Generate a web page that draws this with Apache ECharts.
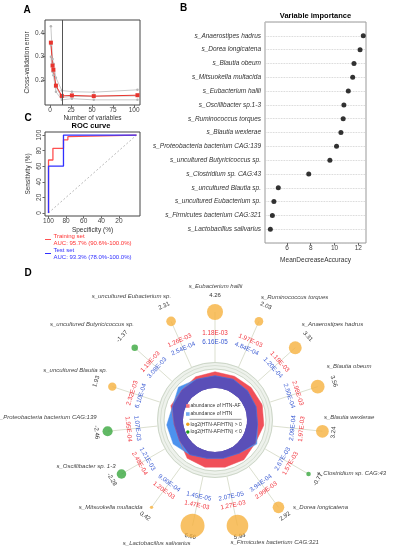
<!DOCTYPE html>
<html><head><meta charset="utf-8">
<script src="https://cdn.jsdelivr.net/npm/echarts@6/dist/echarts.min.js"></script>
<style>html,body{margin:0;padding:0;background:#fff}#c{width:395px;height:550px}</style>
</head><body><div id="c"></div>
<script>
// ---------- Panel A: cross-validation ----------
const cvNumVars = [1, 3, 4, 7, 14, 26, 52, 104];
const cvErrMean = [0.36, 0.262, 0.244, 0.176, 0.132, 0.134, 0.131, 0.135];
const cvErrRep1 = [0.43, 0.29, 0.27, 0.21, 0.155, 0.15, 0.148, 0.158];
const cvErrRep2 = [0.35, 0.26, 0.24, 0.17, 0.125, 0.13, 0.13, 0.132];
const cvErrRep3 = [0.30, 0.235, 0.22, 0.15, 0.115, 0.12, 0.115, 0.115];
const cvSelected = 15;
const cvXTicks = [0, 25, 50, 75, 100];
const cvYTicks = [0.2, 0.3, 0.4];

// ---------- Panel B: variable importance ----------
const impSpecies = ['s_Anaerostipes hadrus','s_Dorea longicatena','s_Blautia obeum','s_Mitsuokella multacida','s_Eubacterium hallii','s_Oscillibacter sp.1-3','s_Ruminococcus torques','s_Blautia wexlerae','s_Proteobacteria bacterium CAG:139','s_uncultured Butyricicoccus sp.','s_Clostridium sp. CAG:43','s_uncultured Blautia sp.','s_uncultured Eubacterium sp.','s_Firmicutes bacterium CAG:321','s_Lactobacillus salivarius'];
const impValues = [12.42, 12.15, 11.64, 11.53, 11.16, 10.79, 10.73, 10.54, 10.17, 9.61, 7.83, 5.27, 4.90, 4.77, 4.60];
const impXTicks = [6, 8, 10, 12];

// ---------- Panel C: ROC ----------
const rocTrainSpec = [100, 100, 95, 95, 83, 83, 78, 78, 76, 76, 0];
const rocTrainSens = [0, 68, 68, 83, 83, 94, 94, 98, 98, 100, 100];
const rocTestSpec = [100, 100, 83, 83, 0];
const rocTestSens = [0, 60, 60, 100, 100];
const rocXTicks = [100, 80, 60, 40, 20];
const rocYTicks = [0, 20, 40, 60, 80, 100];
const rocTrainLegend = ['Training set', 'AUC: 95.7% (90.6%-100.0%)'];
const rocTestLegend = ['Test set', 'AUC: 93.3% (78.0%-100.0%)'];

// ---------- Panel D: circular plot ----------
const speciesD = ['s_Eubacterium hallii','s_Ruminococcus torques','s_Anaerostipes hadrus','s_Blautia obeum','s_Blautia wexlerae','s_Clostridium sp. CAG:43','s_Dorea longicatena','s_Firmicutes bacterium CAG:321','s_Lactobacillus salivarius','s_Mitsuokella multacida','s_Oscillibacter sp. 1-3','s_Proteobacteria bacterium CAG:139','s_uncultured Blautia sp.','s_uncultured Butyricicoccus sp.','s_uncultured Eubacterium sp.'];
const abundAF  = [1.18e-3, 1.97e-3, 1.19e-3, 2.98e-3, 1.97e-3, 1.57e-3, 2.99e-3, 1.27e-3, 1.47e-3, 1.20e-3, 2.48e-4, 1.95e-4, 2.32e-3, 1.19e-3, 1.26e-3];
const abundHTN = [6.16e-5, 4.84e-4, 1.20e-4, 2.50e-4, 2.09e-4, 2.67e-3, 3.94e-4, 2.07e-5, 1.45e-5, 9.00e-4, 1.21e-3, 1.07e-3, 6.10e-4, 3.08e-3, 2.54e-4];
const log2FC   = [4.26, 2.03, 3.31, 3.56, 3.24, -0.77, 2.92, 5.94, 6.66, 0.42, -2.28, -2.46, 1.93, -1.37, 2.31];
// radar ring extent (0 = inner hole, 1 = outer edge)
const radarAF  = [0.90, 0.88, 0.92, 0.98, 0.95, 0.80, 0.95, 0.90, 0.90, 0.85, 0.50, 0.50, 0.80, 0.70, 0.85];
const radarHTN = [0.68, 0.70, 0.65, 0.62, 0.60, 0.90, 0.50, 0.40, 0.40, 0.60, 0.90, 0.92, 0.70, 0.95, 0.70];
const legendD = ['abundance of HTN-AF', 'abundance of HTN', 'log2(HTN-AF/HTN) > 0', 'log2(HTN-AF/HTN) < 0'];

// ---------- layout ----------
const FF = '"Liberation Sans", Arial, sans-serif';
const CX = 215, CY = 420;
const BUB_R = 108, VAL_R = 122, AF_LAB_R = 87, HTN_LAB_R = 78, SPOKE_IN = 58;
// name label placement relative to the bubble centre: [align, dx, dy]
const nameLayout = [['center',0.5,-26],['left',2,-24.5],['left',6.5,-23.5],['left',9,-20],['left',1.5,-14],['left',8.5,-0.7],['left',14.5,0],['left',-7,17],['right',-2,17.7],['right',-9,0],['right',-6,-8],['right',-11,-14],['right',-5,-16],['right',-0.7,-23.4],['right',0,-24.6]];

const angD = speciesD.map((_, k) => k * 360 / speciesD.length);
function closedRing(vals) { const d = vals.map((v, k) => [v, angD[k]]); d.push([vals[0], 360]); return d; }
const radarMin = radarAF.map((v, k) => Math.min(v, radarHTN[k]));
function fmtE(v) { const s = v.toExponential(2).split('e'); const n = parseInt(s[1], 10); return s[0] + 'E' + (n < 0 ? '-' : '+') + String(Math.abs(n)).padStart(2, '0'); }
function tanRot(a) { const flip = a > 90 && a < 270; return (flip ? 180 - a : -a) * Math.PI / 180; }
const zip = (a, b) => a.map((v, i) => [v, b[i]]);

const axisFont = {fontSize: 6.5, color: '#444', fontFamily: FF};
const noLine = {show: false, onZero: false};
const nameStyle = {fontSize: 6.5, color: '#333'};
const hiddenAxis = {show: false, axisLine: {show: false}, axisTick: {show: false}, axisLabel: {show: false}, splitLine: {show: false}};

const chart = echarts.init(document.getElementById('c'), null, {width: 395, height: 550});
const option = {
  animation: false,
  textStyle: {fontFamily: FF},
  grid: [
    {left: 45, top: 20, width: 95, height: 85, show: true, borderColor: '#444', borderWidth: 1},
    {left: 45, top: 132, width: 95, height: 84, show: true, borderColor: '#444', borderWidth: 1},
    {left: 265, top: 22, width: 101, height: 221, show: true, borderColor: '#999', borderWidth: 1}
  ],
  xAxis: [
    {gridIndex: 0, type: 'value', min: -6, max: 107, axisLine: noLine, splitLine: {show: false},
     axisTick: {customValues: cvXTicks, length: 2.5, lineStyle: {color: '#666'}},
     axisLabel: Object.assign({customValues: cvXTicks, margin: 2}, axisFont),
     name: 'Number of variables', nameLocation: 'middle', nameGap: 10, nameMoveOverlap: false, nameTextStyle: nameStyle},
    {gridIndex: 1, type: 'value', min: -4, max: 104, inverse: true, axisLine: noLine, splitLine: {show: false},
     axisTick: {customValues: rocXTicks, length: 2.5, lineStyle: {color: '#666'}},
     axisLabel: Object.assign({customValues: rocXTicks, margin: 2}, axisFont),
     name: 'Specificity (%)', nameLocation: 'middle', nameGap: 11, nameMoveOverlap: false, nameTextStyle: nameStyle},
    {gridIndex: 2, type: 'value', min: 4.15, max: 12.65, axisLine: noLine, splitLine: {show: false},
     axisTick: {customValues: impXTicks, length: 2.5, lineStyle: {color: '#666'}},
     axisLabel: Object.assign({customValues: impXTicks, margin: 2}, axisFont),
     name: 'MeanDecreaseAccuracy', nameLocation: 'middle', nameGap: 13.5, nameMoveOverlap: false, nameTextStyle: nameStyle}
  ],
  yAxis: [
    {gridIndex: 0, type: 'value', min: 0.093, max: 0.457, axisLine: noLine, splitLine: {show: false},
     axisTick: {customValues: cvYTicks, length: 2.5, lineStyle: {color: '#666'}},
     axisLabel: Object.assign({customValues: cvYTicks, margin: 1}, axisFont),
     name: 'Cross-validation error', nameLocation: 'middle', nameGap: 14, nameRotate: 90, nameMoveOverlap: false, nameTextStyle: nameStyle},
    {gridIndex: 1, type: 'value', min: -4, max: 104, axisLine: noLine, splitLine: {show: false},
     axisTick: {customValues: rocYTicks, length: 2.5, lineStyle: {color: '#666'}},
     axisLabel: Object.assign({customValues: rocYTicks, margin: 2, rotate: 90}, axisFont),
     name: 'Sensitivity (%)', nameLocation: 'middle', nameGap: 13, nameRotate: 90, nameMoveOverlap: false, nameTextStyle: nameStyle},
    {gridIndex: 2, type: 'value', min: 0, max: 16, interval: 1, axisLine: noLine, axisTick: {show: false},
     splitLine: {show: true, lineStyle: {type: 'dotted', color: '#c8c8c8', width: 0.8}},
     axisLabel: {margin: 4, fontSize: 6.5, color: '#333', fontStyle: 'italic', fontFamily: FF,
                 formatter: v => (v >= 1 && v <= impSpecies.length) ? impSpecies[impSpecies.length - v] : ''}}
  ],
  polar: [
    {center: [CX, CY], radius: [32, 50]},
    {center: [CX, CY], radius: [0, 150]}
  ],
  angleAxis: [
    Object.assign({polarIndex: 0, type: 'value', min: 0, max: 360, startAngle: 90, clockwise: true}, hiddenAxis),
    Object.assign({polarIndex: 1, type: 'value', min: 0, max: 360, startAngle: 90, clockwise: true}, hiddenAxis)
  ],
  radiusAxis: [
    Object.assign({polarIndex: 0, type: 'value', min: 0, max: 1}, hiddenAxis),
    Object.assign({polarIndex: 1, type: 'value', min: 0, max: 150}, hiddenAxis)
  ],
  series: [
    // Panel A
    {type: 'line', xAxisIndex: 0, yAxisIndex: 0, data: zip(cvNumVars, cvErrRep1), symbol: 'circle', symbolSize: 2.5,
     lineStyle: {color: '#c9c9c9', width: 1}, itemStyle: {color: '#b5b5b5'}},
    {type: 'line', xAxisIndex: 0, yAxisIndex: 0, data: zip(cvNumVars, cvErrRep2), symbol: 'circle', symbolSize: 2.5,
     lineStyle: {color: '#c9c9c9', width: 1}, itemStyle: {color: '#b5b5b5'}},
    {type: 'line', xAxisIndex: 0, yAxisIndex: 0, data: zip(cvNumVars, cvErrRep3), symbol: 'circle', symbolSize: 2.5,
     lineStyle: {color: '#c9c9c9', width: 1}, itemStyle: {color: '#b5b5b5'}},
    {type: 'line', xAxisIndex: 0, yAxisIndex: 0, data: zip(cvNumVars, cvErrMean), symbol: 'rect', symbolSize: 4,
     lineStyle: {color: '#e8352e', width: 1}, itemStyle: {color: '#e8352e'},
     markLine: {silent: true, symbol: ['none', 'none'], label: {show: false}, data: [{xAxis: cvSelected}],
                lineStyle: {color: '#555', type: 'solid', width: 1}}},
    // Panel C
    {type: 'line', xAxisIndex: 1, yAxisIndex: 1, data: [[100, 0], [0, 100]], symbol: 'none',
     lineStyle: {color: '#aaa', width: 0.8, type: [2, 2]}},
    {type: 'line', xAxisIndex: 1, yAxisIndex: 1, data: zip(rocTrainSpec, rocTrainSens), symbol: 'none',
     lineStyle: {color: '#ff5050', width: 1.3}},
    {type: 'line', xAxisIndex: 1, yAxisIndex: 1, data: zip(rocTestSpec, rocTestSens), symbol: 'none',
     lineStyle: {color: '#3030ff', width: 1.3}},
    // Panel B
    {type: 'scatter', xAxisIndex: 2, yAxisIndex: 2, data: impValues.map((v, i) => [v, impValues.length - i]),
     symbolSize: 5, itemStyle: {color: '#000'}},
    // Panel D radar
    {type: 'line', coordinateSystem: 'polar', polarIndex: 0, data: closedRing(radarAF), symbol: 'none', z: 3,
     lineStyle: {width: 0.5, color: '#f0505a'}, areaStyle: {color: '#f0505a', opacity: 1}},
    {type: 'line', coordinateSystem: 'polar', polarIndex: 0, data: closedRing(radarHTN), symbol: 'none', z: 3,
     lineStyle: {width: 0.5, color: '#4c92ee'}, areaStyle: {color: '#4c92ee', opacity: 1}},
    {type: 'line', coordinateSystem: 'polar', polarIndex: 0, data: closedRing(radarMin), symbol: 'none', z: 3,
     lineStyle: {width: 0.5, color: '#5a4fb8'}, areaStyle: {color: '#5a4fb8', opacity: 1}},
    // Panel D spokes and texts
    {type: 'custom', coordinateSystem: 'polar', polarIndex: 1, z: 4,
     data: speciesD.map((s, k) => [BUB_R, angD[k], k]),
     renderItem: function (params, api) {
       const a = api.value(1), k = api.value(2);
       const pIn = api.coord([SPOKE_IN, a]), pOut = api.coord([BUB_R, a]);
       const pAF = api.coord([AF_LAB_R, a]), pH = api.coord([HTN_LAB_R, a]), pV = api.coord([VAL_R, a]);
       const rot = tanRot(a), lay = nameLayout[k];
       const f = '6.3px ' + FF;
       return {type: 'group', children: [
         {type: 'line', shape: {x1: pIn[0], y1: pIn[1], x2: pOut[0], y2: pOut[1]}, style: {stroke: '#d2d7c3', lineWidth: 0.8}},
         {type: 'text', x: pAF[0], y: pAF[1], rotation: rot, style: {text: fmtE(abundAF[k]), fill: '#f2363f', font: f, textAlign: 'center', textVerticalAlign: 'middle'}},
         {type: 'text', x: pH[0], y: pH[1], rotation: rot, style: {text: fmtE(abundHTN[k]), fill: '#3b5bd3', font: f, textAlign: 'center', textVerticalAlign: 'middle'}},
         {type: 'text', x: pV[0], y: pV[1], rotation: rot, style: {text: log2FC[k].toFixed(2), fill: '#333', font: '6px ' + FF, textAlign: 'center', textVerticalAlign: 'bottom'}},
         {type: 'text', x: pOut[0] + lay[1], y: pOut[1] + lay[2], style: {text: speciesD[k], fill: '#444', font: 'italic 6px ' + FF, textAlign: lay[0], textVerticalAlign: 'middle'}}
       ]};
     }},
    // Panel D bubbles
    {type: 'scatter', coordinateSystem: 'polar', polarIndex: 1, z: 5,
     data: log2FC.map((v, k) => [BUB_R, angD[k], v]),
     symbolSize: val => 2 + 3.3 * Math.abs(val[2]),
     itemStyle: {color: p => p.value[2] > 0 ? '#f6b23e' : '#3aa83e'}}
  ],
  graphic: {elements: [
    {type: 'text', x: 27, y: 10, style: {text: 'A', font: 'bold 10px ' + FF, fill: '#000', textAlign: 'center', textVerticalAlign: 'middle'}},
    {type: 'text', x: 183.5, y: 8, style: {text: 'B', font: 'bold 10px ' + FF, fill: '#000', textAlign: 'center', textVerticalAlign: 'middle'}},
    {type: 'text', x: 28, y: 118, style: {text: 'C', font: 'bold 10px ' + FF, fill: '#000', textAlign: 'center', textVerticalAlign: 'middle'}},
    {type: 'text', x: 28, y: 273.5, style: {text: 'D', font: 'bold 10px ' + FF, fill: '#000', textAlign: 'center', textVerticalAlign: 'middle'}},
    {type: 'text', x: 91, y: 125.5, style: {text: 'ROC curve', font: 'bold 7.5px ' + FF, fill: '#000', textAlign: 'center', textVerticalAlign: 'middle'}},
    {type: 'text', x: 315.5, y: 16, style: {text: 'Variable importance', font: 'bold 7.5px ' + FF, fill: '#000', textAlign: 'center', textVerticalAlign: 'middle'}},
    // ROC legend
    {type: 'line', shape: {x1: 45, y1: 239.5, x2: 51, y2: 239.5}, style: {stroke: '#ff5050', lineWidth: 1}},
    {type: 'text', x: 53.5, y: 236, style: {text: rocTrainLegend[0], font: '6px ' + FF, fill: '#ff3030', textVerticalAlign: 'middle'}},
    {type: 'text', x: 53.5, y: 243, style: {text: rocTrainLegend[1], font: '6px ' + FF, fill: '#ff3030', textVerticalAlign: 'middle'}},
    {type: 'line', shape: {x1: 45, y1: 253.5, x2: 51, y2: 253.5}, style: {stroke: '#3030ff', lineWidth: 1}},
    {type: 'text', x: 53.5, y: 250, style: {text: rocTestLegend[0], font: '6px ' + FF, fill: '#3030ff', textVerticalAlign: 'middle'}},
    {type: 'text', x: 53.5, y: 257, style: {text: rocTestLegend[1], font: '6px ' + FF, fill: '#3030ff', textVerticalAlign: 'middle'}},
    // D ring
    {type: 'ring', z: 1, shape: {cx: CX, cy: CY, r0: 50.5, r: 58}, style: {fill: '#eef2ec'}},
    {type: 'circle', z: 1, shape: {cx: CX, cy: CY, r: 51}, style: {fill: null, stroke: '#cdd6c8', lineWidth: 1}},
    {type: 'circle', z: 1, shape: {cx: CX, cy: CY, r: 54.5}, style: {fill: null, stroke: '#d8dfd4', lineWidth: 1}},
    {type: 'circle', z: 1, shape: {cx: CX, cy: CY, r: 57.5}, style: {fill: null, stroke: '#cdd6c8', lineWidth: 1}},
    // D legend
    {type: 'rect', z: 10, shape: {x: CX - 29, y: CY - 15.8, width: 3.6, height: 3.6}, style: {fill: '#f4737b'}},
    {type: 'text', z: 10, x: CX - 24.5, y: CY - 14, style: {text: legendD[0], font: '5px ' + FF, fill: '#333', textVerticalAlign: 'middle'}},
    {type: 'rect', z: 10, shape: {x: CX - 29, y: CY - 7.8, width: 3.6, height: 3.6}, style: {fill: '#74aaf0'}},
    {type: 'text', z: 10, x: CX - 24.5, y: CY - 6, style: {text: legendD[1], font: '5px ' + FF, fill: '#333', textVerticalAlign: 'middle'}},
    {type: 'line', z: 10, shape: {x1: CX - 25.5, y1: CY - 0.7, x2: CX + 26.5, y2: CY - 0.7}, style: {stroke: '#555', lineWidth: 0.6}},
    {type: 'circle', z: 10, shape: {cx: CX - 27.2, cy: CY + 4.3, r: 1.7}, style: {fill: '#f2a21a'}},
    {type: 'text', z: 10, x: CX - 24.5, y: CY + 4.3, style: {text: legendD[2], font: '5px ' + FF, fill: '#333', textVerticalAlign: 'middle'}},
    {type: 'circle', z: 10, shape: {cx: CX - 27.2, cy: CY + 12, r: 1.7}, style: {fill: '#1a9a1a'}},
    {type: 'text', z: 10, x: CX - 24.5, y: CY + 12, style: {text: legendD[3], font: '5px ' + FF, fill: '#333', textVerticalAlign: 'middle'}}
  ]}
};
chart.setOption(option);
</script>
</body></html>
